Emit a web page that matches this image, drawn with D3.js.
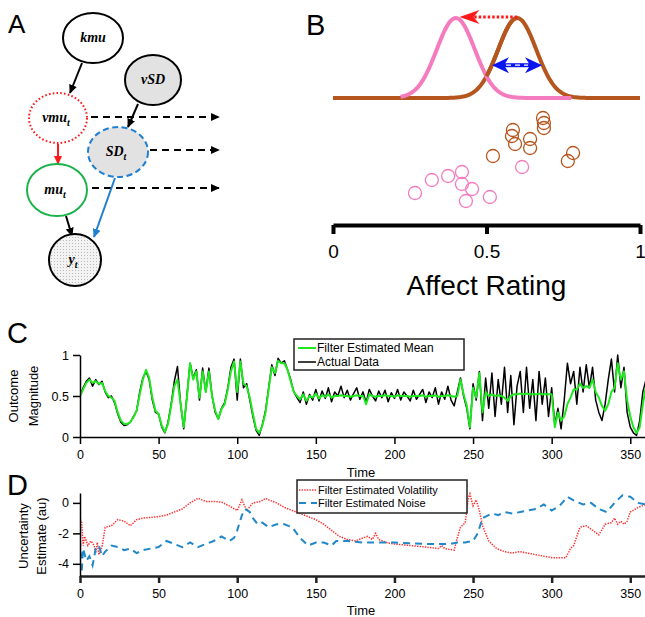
<!DOCTYPE html>
<html>
<head>
<meta charset="utf-8">
<script src="https://cdn.jsdelivr.net/npm/d3@7"></script>
<style>
  body { margin: 0; background: #fff; }
  svg { display: block; }
  text { font-family: "Liberation Sans", Arial, sans-serif; fill: #000; }
</style>
</head>
<body>
<svg id="fig" width="645" height="617"></svg>
<script>
// ---------------- data ----------------
// Panel B: two gaussians (mean, sd) and ratings (x = rating, y = vertical jitter 0..1)
const oldMean = 0.6, newMean = 0.4, gaussSD = 0.062;
const pinkRatings = [0.267, 0.322, 0.375, 0.42, 0.42, 0.453, 0.433, 0.511, 0.616];
const pinkJitter  = [0.17, 0.30, 0.34, 0.38, 0.26, 0.21, 0.09, 0.13, 0.43];
const brownRatings = [0.521, 0.586, 0.583, 0.593, 0.642, 0.642, 0.684, 0.687, 0.687, 0.782, 0.765];
const brownJitter  = [0.54, 0.80, 0.74, 0.66, 0.71, 0.62, 0.92, 0.87, 0.82, 0.57, 0.49];
const ratingTicks = [0, 0.5, 1];

// Panel C: one value every 2 time steps (t = 0, 2, ..., 360)
const actualData = [
  0.50,0.60,0.68,0.72,0.62,0.70,0.64,0.68,0.55,0.48, 0.50,0.42,0.28,0.18,0.14,0.15,0.18,0.25,0.32,0.55,
  0.72,0.80,0.70,0.45,0.30,0.28,0.12,0.05,0.18,0.40, 0.68,0.86,0.40,0.10,0.50,0.90,0.72,0.82,0.45,0.84,
  0.55,0.84,0.50,0.30,0.22,0.35,0.42,0.60,0.85,0.95, 0.45,0.95,0.60,0.65,0.45,0.25,0.08,0.02,0.15,0.32,
  0.60,0.88,0.75,0.96,0.90,0.93,0.82,0.70,0.55,0.48, 0.42,0.55,0.40,0.52,0.45,0.58,0.44,0.56,0.47,0.60,
  0.43,0.55,0.50,0.62,0.48,0.57,0.45,0.53,0.60,0.46, 0.55,0.42,0.58,0.50,0.44,0.56,0.48,0.57,0.43,0.54,
  0.47,0.58,0.45,0.55,0.50,0.44,0.57,0.46,0.52,0.58, 0.42,0.55,0.48,0.60,0.40,0.55,0.46,0.62,0.45,0.38,
  0.55,0.72,0.50,0.35,0.10,0.65,0.45,0.80,0.20,0.72, 0.35,0.78,0.25,0.70,0.40,0.85,0.30,0.75,0.15,0.62,
  0.80,0.30,0.85,0.35,0.70,0.20,0.80,0.40,0.72,0.25, 0.60,0.15,0.35,0.10,0.45,0.90,0.65,0.80,0.40,0.85,
  0.55,0.88,0.60,0.85,0.45,0.30,0.20,0.40,0.70,0.95, 0.55,1.00,0.60,0.85,0.30,0.12,0.05,0.02,0.20,0.55,
  0.70
];
const filterMean = [
  0.50,0.58,0.66,0.70,0.66,0.68,0.65,0.66,0.56,0.50, 0.48,0.44,0.30,0.20,0.16,0.16,0.18,0.24,0.32,0.52,
  0.70,0.82,0.72,0.48,0.32,0.28,0.14,0.06,0.16,0.38, 0.62,0.70,0.40,0.12,0.48,0.90,0.70,0.80,0.48,0.80,
  0.55,0.80,0.50,0.32,0.22,0.34,0.40,0.58,0.80,0.92, 0.55,0.92,0.65,0.62,0.48,0.28,0.10,0.05,0.14,0.30,
  0.58,0.85,0.78,0.93,0.90,0.90,0.82,0.68,0.55,0.50, 0.46,0.52,0.44,0.50,0.48,0.53,0.47,0.51,0.49,0.52,
  0.48,0.50,0.50,0.51,0.50,0.50,0.49,0.50,0.51,0.50, 0.50,0.40,0.52,0.50,0.49,0.50,0.50,0.51,0.50,0.50,
  0.49,0.51,0.50,0.50,0.50,0.49,0.50,0.50,0.50,0.51, 0.49,0.50,0.50,0.51,0.49,0.50,0.50,0.51,0.50,0.49,
  0.50,0.70,0.52,0.38,0.12,0.60,0.48,0.78,0.30,0.55, 0.50,0.52,0.50,0.51,0.50,0.48,0.44,0.50,0.52,0.52,
  0.53,0.52,0.53,0.52,0.52,0.52,0.53,0.52,0.52,0.52, 0.52,0.12,0.30,0.20,0.25,0.40,0.48,0.58,0.58,0.65,
  0.60,0.62,0.60,0.70,0.55,0.48,0.38,0.32,0.40,0.55, 0.60,0.90,0.70,0.80,0.45,0.25,0.12,0.05,0.12,0.40,
  0.62
];
const outcomeTicks = [0, 0.5, 1];
const timeTicks = [0, 50, 100, 150, 200, 250, 300, 350];

// Panel D: [time, value]
const volatility = [
  [0,-1.1],[1,-1.2],[2,-2.8],[3,-2.2],[5,-2.8],[7,-2.5],[9,-2.8],[10,-3.3],[11,-2.6],[12,-3.4],
  [14,-2.9],[16,-1.6],[20,-1.5],[24,-1.1],[28,-1.2],[32,-1.5],[36,-1.1],[40,-1.0],[50,-0.9],[55,-0.8],
  [60,-0.6],[65,-0.4],[70,0.0],[75,0.3],[80,0.1],[85,0.1],[90,0.05],[95,-0.2],[100,-0.5],[103,0.2],
  [106,-0.5],[110,0.0],[115,0.1],[118,0.3],[120,0.2],[125,0.0],[130,-0.3],[135,-0.5],[140,-0.7],[145,-0.9],
  [150,-1.1],[155,-1.4],[160,-1.8],[165,-2.2],[170,-2.4],[175,-2.5],[180,-2.3],[183,-2.2],[186,-2.4],[188,-2.0],
  [190,-2.4],[195,-2.6],[200,-2.7],[210,-2.8],[220,-2.9],[228,-3.0],[230,-2.8],[232,-3.0],[238,-3.1],[240,-2.3],
  [242,-1.6],[245,-1.3],[247,0.3],[248,0.6],[250,-0.2],[252,0.2],[254,-0.5],[256,-1.5],[258,-2.0],[260,-2.5],
  [265,-3.0],[270,-3.2],[275,-3.3],[280,-3.2],[285,-3.3],[290,-3.4],[295,-3.5],[300,-3.6],[305,-3.6],[309,-3.6],
  [312,-3.0],[314,-2.8],[318,-1.6],[322,-1.5],[326,-1.8],[330,-2.1],[334,-1.4],[338,-1.3],[340,-1.0],[342,-1.4],
  [344,-1.2],[346,-1.4],[348,-1.2],[350,-0.6],[355,-0.3],[360,-0.1]
];
const noise = [
  [0,-2.4],[1,-4.6],[2,-3.0],[4,-3.8],[6,-3.5],[8,-4.1],[10,-3.0],[12,-2.8],[14,-3.5],[16,-3.2],
  [20,-2.8],[24,-2.9],[28,-3.1],[32,-3.0],[36,-3.3],[40,-3.1],[45,-3.0],[50,-2.9],[55,-2.5],[60,-2.7],
  [65,-2.9],[70,-2.6],[75,-2.9],[80,-2.7],[85,-2.5],[90,-2.2],[95,-2.5],[98,-2.3],[100,-1.8],[103,-0.8],
  [105,-0.4],[108,-0.6],[110,-1.0],[113,-1.4],[116,-1.3],[120,-1.6],[125,-1.4],[130,-1.4],[135,-1.6],[140,-2.3],
  [145,-2.8],[150,-2.6],[155,-2.6],[160,-2.8],[163,-2.5],[170,-2.5],[180,-2.6],[200,-2.6],[220,-2.7],[235,-2.7],
  [240,-2.6],[245,-2.6],[250,-2.5],[253,-2.0],[256,-1.0],[258,-0.9],[262,-0.7],[266,-0.8],[270,-0.6],[275,-0.7],
  [280,-0.6],[285,-0.5],[290,-0.4],[295,-0.1],[300,-0.5],[305,-0.2],[310,0.4],[315,0.1],[320,-0.1],[325,0.0],
  [330,-0.4],[335,-0.6],[340,0.0],[345,0.5],[350,0.4],[355,0.0],[360,-0.1]
];
const uncertaintyTicks = [0, -2, -4];

const svg = d3.select("#fig");
svg.append("rect").attr("width", 645).attr("height", 617).attr("fill", "#fff");

const defs = svg.append("defs");
// arrow heads for the graphical model
[["blk", "#000"], ["red", "#ff1a1a"], ["blu", "#1f7fd0"]].forEach(([id, c]) => {
  defs.append("marker")
    .attr("id", "arr-" + id)
    .attr("viewBox", "0 0 10 10")
    .attr("refX", 9).attr("refY", 5)
    .attr("markerUnits", "userSpaceOnUse")
    .attr("markerWidth", 9).attr("markerHeight", 9)
    .attr("orient", "auto")
    .append("path").attr("d", "M0,0.5 L10,5 L0,9.5 z").attr("fill", c);
});
// stipple for the observed node
const pat = defs.append("pattern").attr("id", "stipple")
  .attr("width", 3).attr("height", 3).attr("patternUnits", "userSpaceOnUse");
pat.append("rect").attr("width", 3).attr("height", 3).attr("fill", "#f3f3f3");
pat.append("rect").attr("width", 1).attr("height", 1).attr("fill", "#bbb");

// ---------------- Panel A ----------------
const nodes = [
  { id: "kmu", name: "kmu", sub: "" },
  { id: "vSD", name: "vSD", sub: "" },
  { id: "vmu", name: "vmu", sub: "t" },
  { id: "SD", name: "SD", sub: "t" },
  { id: "mu", name: "mu", sub: "t" },
  { id: "y", name: "y", sub: "t" }
];
const nodeStyle = {
  kmu: { cx: 93, cy: 38, rx: 30, ry: 25, stroke: "#000", fill: "#fff", dash: null },
  vSD: { cx: 153, cy: 80, rx: 28, ry: 25, stroke: "#000", fill: "#e2e2e2", dash: null },
  vmu: { cx: 58, cy: 118, rx: 29, ry: 25, stroke: "#ff1a1a", fill: "#fff", dash: "1.6,2.2" },
  SD:  { cx: 118, cy: 152, rx: 30, ry: 25, stroke: "#1f7fd0", fill: "#e2e2e2", dash: "6,3.5" },
  mu:  { cx: 57, cy: 190, rx: 30, ry: 26, stroke: "#19b34a", fill: "#fff", dash: null },
  y:   { cx: 75, cy: 260, rx: 26, ry: 26, stroke: "#000", fill: "url(#stipple)", dash: null }
};
const edges = [
  { x1: 82, y1: 63, x2: 70, y2: 93, c: "blk" },
  { x1: 138, y1: 104, x2: 128, y2: 127, c: "blk" },
  { x1: 58, y1: 144, x2: 58, y2: 164, c: "red" },
  { x1: 66, y1: 216, x2: 72, y2: 236, c: "blk" },
  { x1: 115, y1: 178, x2: 94, y2: 237, c: "blu" }
];
const edgeColor = { blk: "#000", red: "#ff1a1a", blu: "#1f7fd0" };
const timeArrows = [
  { x1: 91, y: 117 }, { x1: 150, y: 150 }, { x1: 92, y: 188 }
];

const gA = svg.append("g");
gA.selectAll("line.dash").data(timeArrows).enter().append("line")
  .attr("x1", d => d.x1).attr("x2", 219).attr("y1", d => d.y).attr("y2", d => d.y)
  .attr("stroke", "#000").attr("stroke-width", 1.8).attr("stroke-dasharray", "7,5")
  .attr("marker-end", "url(#arr-blk)");
gA.selectAll("line.edge").data(edges).enter().append("line")
  .attr("x1", d => d.x1).attr("y1", d => d.y1).attr("x2", d => d.x2).attr("y2", d => d.y2)
  .attr("stroke", d => edgeColor[d.c]).attr("stroke-width", 2)
  .attr("marker-end", d => `url(#arr-${d.c})`);
const ng = gA.selectAll("g.node").data(nodes).enter().append("g");
ng.append("ellipse")
  .attr("cx", d => nodeStyle[d.id].cx).attr("cy", d => nodeStyle[d.id].cy)
  .attr("rx", d => nodeStyle[d.id].rx).attr("ry", d => nodeStyle[d.id].ry)
  .attr("fill", d => nodeStyle[d.id].fill)
  .attr("stroke", d => nodeStyle[d.id].stroke).attr("stroke-width", 2)
  .attr("stroke-dasharray", d => nodeStyle[d.id].dash);
const nt = ng.append("text")
  .attr("x", d => nodeStyle[d.id].cx + (d.sub ? -2 : 0))
  .attr("y", d => nodeStyle[d.id].cy + 4)
  .attr("text-anchor", "middle")
  .style("font-family", "'Liberation Serif', 'DejaVu Serif', serif")
  .style("font-weight", "bold").style("font-style", "italic").style("font-size", "14px");
nt.append("tspan").text(d => d.name);
nt.append("tspan").attr("dy", 4).style("font-size", "10px").text(d => d.sub);

svg.append("text").attr("x", 8).attr("y", 33).style("font-size", "26px").text("A");

// ---------------- Panel B ----------------
const xB = d3.scaleLinear().domain([0, 1]).range([333, 640]);
const yB = d3.scaleLinear().domain([0, 1]).range([98, 18]);      // normalized density
const yJ = d3.scaleLinear().domain([0, 1]).range([210, 110]);    // jitter rows
const gauss = (m) => (x) => Math.exp(-((x - m) ** 2) / (2 * gaussSD * gaussSD));
const curve = d3.line().x(d => xB(d[0])).y(d => yB(d[1]));
const gOld = gauss(oldMean), gNew = gauss(newMean);
svg.append("path")
  .attr("d", curve(d3.range(0, 1.0001, 0.004).map(x => [x, gOld(x)])))
  .attr("fill", "none").attr("stroke", "#b5561f").attr("stroke-width", 4);
svg.append("path")
  .attr("d", curve(d3.range(0.22, 0.78, 0.004).map(x => [x, gNew(x)])))
  .attr("fill", "none").attr("stroke", "#f57bbf").attr("stroke-width", 4);
svg.append("path")
  .attr("d", curve(d3.range(0.5, 0.6, 0.004).map(x => [x, gOld(x)])))
  .attr("fill", "none").attr("stroke", "#b5561f").attr("stroke-width", 4);

// red dotted shift arrow
const arrY = yB(1) - 1;
const tipX = xB(newMean + 0.012);
svg.append("line").attr("x1", xB(oldMean)).attr("x2", tipX + 14).attr("y1", arrY).attr("y2", arrY)
  .attr("stroke", "#ff1a1a").attr("stroke-width", 3).attr("stroke-dasharray", "2.5,2");
svg.append("path")
  .attr("d", `M${tipX},${arrY} L${tipX + 20},${arrY - 7} L${tipX + 14},${arrY} L${tipX + 20},${arrY + 7} Z`)
  .attr("fill", "#ff1a1a");

// blue double arrow (width)
const bY = yB(0.41);
const bL = xB(0.518), bR = xB(0.681);
svg.append("line").attr("x1", bL + 10).attr("x2", bR - 10).attr("y1", bY).attr("y2", bY)
  .attr("stroke", "#0a14f0").attr("stroke-width", 4);
svg.append("line").attr("x1", bL + 14).attr("x2", bR - 14).attr("y1", bY).attr("y2", bY)
  .attr("stroke", "#fff").attr("stroke-width", 1.2).attr("stroke-dasharray", "5,4");
svg.append("path")
  .attr("d", `M${bL},${bY} L${bL + 17},${bY - 8} L${bL + 12},${bY} L${bL + 17},${bY + 8} Z`)
  .attr("fill", "#0a14f0");
svg.append("path")
  .attr("d", `M${bR},${bY} L${bR - 17},${bY - 8} L${bR - 12},${bY} L${bR - 17},${bY + 8} Z`)
  .attr("fill", "#0a14f0");

// rating dots
svg.selectAll("circle.pink").data(d3.zip(pinkRatings, pinkJitter)).enter().append("circle")
  .attr("cx", d => xB(d[0])).attr("cy", d => yJ(d[1])).attr("r", 6.5)
  .attr("fill", "none").attr("stroke", "#f57bbf").attr("stroke-width", 1.3);
svg.selectAll("circle.brown").data(d3.zip(brownRatings, brownJitter)).enter().append("circle")
  .attr("cx", d => xB(d[0])).attr("cy", d => yJ(d[1])).attr("r", 6.5)
  .attr("fill", "none").attr("stroke", "#b5561f").attr("stroke-width", 1.3);

const axB = svg.append("g").attr("transform", "translate(0,225)")
  .call(d3.axisBottom(xB).tickValues(ratingTicks).tickSize(9).tickSizeOuter(0).tickPadding(11)
    .tickFormat(d => d === 0.5 ? "0.5" : String(d)));
axB.select(".domain").attr("stroke", "#000").attr("stroke-width", 4);
axB.selectAll(".tick line").attr("stroke", "#000").attr("stroke-width", 4);
axB.selectAll(".tick text").style("font-size", "19px").style("font-family", "Liberation Sans, Arial");
svg.append("text").attr("x", xB(0.5)).attr("y", 295).attr("text-anchor", "middle")
  .style("font-size", "28px").text("Affect Rating");

svg.append("text").attr("x", 306).attr("y", 35).style("font-size", "29px").text("B");

// ---------------- Panel C ----------------
const xT = d3.scaleLinear().domain([0, 360]).range([80, 646]);
const yC = d3.scaleLinear().domain([0, 1]).range([437, 355]);
defs.append("clipPath").attr("id", "clipC").append("rect")
  .attr("x", 80).attr("y", 340).attr("width", 566).attr("height", 110);
defs.append("clipPath").attr("id", "clipD").append("rect")
  .attr("x", 80).attr("y", 478).attr("width", 566).attr("height", 110);

function styleAxis(g, w, color) {
  g.select(".domain").attr("stroke", color || "#000").attr("stroke-width", w);
  g.selectAll(".tick line").attr("stroke", color || "#000").attr("stroke-width", w);
  g.selectAll(".tick text").style("font-size", "12.5px").style("font-family", "Liberation Sans, Arial");
}

const lineC = d3.line().x((d, i) => xT(i * 2)).y(d => yC(d));
const gC = svg.append("g").attr("clip-path", "url(#clipC)");
gC.append("path").attr("d", lineC(actualData))
  .attr("fill", "none").attr("stroke", "#000").attr("stroke-width", 1.5).attr("stroke-linejoin", "round");
gC.append("path").attr("d", lineC(filterMean))
  .attr("fill", "none").attr("stroke", "#1ee81e").attr("stroke-width", 2).attr("stroke-linejoin", "round");

const axCx = svg.append("g").attr("transform", "translate(0,437)")
  .call(d3.axisBottom(xT).tickValues(timeTicks).tickSize(7).tickSizeOuter(0).tickPadding(6));
styleAxis(axCx, 1.5);
const axCy = svg.append("g").attr("transform", "translate(80,0)")
  .call(d3.axisLeft(yC).tickValues(outcomeTicks).tickSize(7).tickSizeOuter(0).tickPadding(4)
    .tickFormat(d => d === 0.5 ? "0.5" : String(d)));
styleAxis(axCy, 1.5);

svg.append("text").attr("transform", "translate(18,396) rotate(-90)").attr("text-anchor", "middle")
  .style("font-size", "13px").text("Outcome");
svg.append("text").attr("transform", "translate(38,396) rotate(-90)").attr("text-anchor", "middle")
  .style("font-size", "13px").text("Magnitude");
svg.append("text").attr("x", 361).attr("y", 477).attr("text-anchor", "middle")
  .style("font-size", "13px").text("Time");
svg.append("text").attr("x", 7).attr("y", 343).style("font-size", "29px").text("C");

// legend C
const legC = svg.append("g");
legC.append("rect").attr("x", 294).attr("y", 339).attr("width", 170).attr("height", 31)
  .attr("fill", "#fff").attr("stroke", "#222").attr("stroke-width", 1.5);
legC.append("line").attr("x1", 298).attr("x2", 316).attr("y1", 348).attr("y2", 348)
  .attr("stroke", "#1ee81e").attr("stroke-width", 2);
legC.append("line").attr("x1", 298).attr("x2", 316).attr("y1", 362).attr("y2", 362)
  .attr("stroke", "#000").attr("stroke-width", 1.5);
legC.append("text").attr("x", 317).attr("y", 352).style("font-size", "12px").text("Filter Estimated Mean");
legC.append("text").attr("x", 317).attr("y", 366).style("font-size", "12px").text("Actual Data");

// ---------------- Panel D ----------------
const yD = d3.scaleLinear().domain([-4.8, 0.65]).range([576, 493]);
const lineD = d3.line().x(d => xT(d[0])).y(d => yD(d[1]));
const gD = svg.append("g").attr("clip-path", "url(#clipD)");
gD.append("path").attr("d", lineD(volatility))
  .attr("fill", "none").attr("stroke", "#ff3030").attr("stroke-width", 1.5).attr("stroke-dasharray", "1.4,1.2");
gD.append("path").attr("d", lineD(noise))
  .attr("fill", "none").attr("stroke", "#2088c8").attr("stroke-width", 2).attr("stroke-dasharray", "7,5");

const axDx = svg.append("g").attr("transform", "translate(0,576)")
  .call(d3.axisBottom(xT).tickValues(timeTicks).tickSize(7).tickSizeOuter(0).tickPadding(6));
styleAxis(axDx, 2.5, "#222");
const axDy = svg.append("g").attr("transform", "translate(80,0)")
  .call(d3.axisLeft(yD).tickValues(uncertaintyTicks).tickSize(7).tickSizeOuter(0).tickPadding(4)
    .tickFormat(d => String(d)));
styleAxis(axDy, 1.5);

svg.append("text").attr("transform", "translate(28,536) rotate(-90)").attr("text-anchor", "middle")
  .style("font-size", "13px").text("Uncertainty");
svg.append("text").attr("transform", "translate(46,536) rotate(-90)").attr("text-anchor", "middle")
  .style("font-size", "13px").text("Estimate (au)");
svg.append("text").attr("x", 361).attr("y", 615).attr("text-anchor", "middle")
  .style("font-size", "13px").text("Time");
svg.append("text").attr("x", 7).attr("y", 495).style("font-size", "29px").text("D");

// legend D
const legD = svg.append("g");
legD.append("rect").attr("x", 297).attr("y", 480).attr("width", 170).attr("height", 33)
  .attr("fill", "#fff").attr("stroke", "#222").attr("stroke-width", 1.5);
legD.append("line").attr("x1", 299).attr("x2", 317).attr("y1", 490).attr("y2", 490)
  .attr("stroke", "#ff3030").attr("stroke-width", 1.5).attr("stroke-dasharray", "1.4,1.2");
legD.append("line").attr("x1", 299).attr("x2", 317).attr("y1", 503).attr("y2", 503)
  .attr("stroke", "#2088c8").attr("stroke-width", 2).attr("stroke-dasharray", "7,5");
legD.append("text").attr("x", 318).attr("y", 494).style("font-size", "11px").text("Filter Estimated Volatility");
legD.append("text").attr("x", 318).attr("y", 507).style("font-size", "11px").text("Filter Estimated Noise");
</script>
</body>
</html>
